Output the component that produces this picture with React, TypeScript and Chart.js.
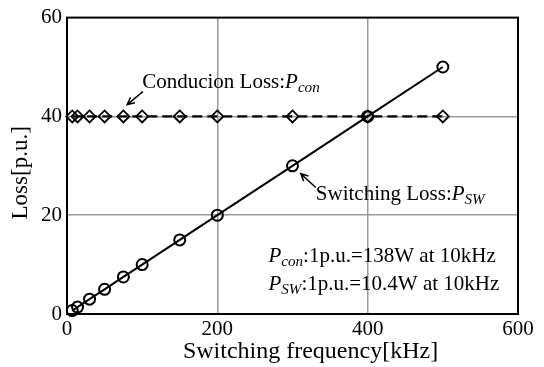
import React, { useEffect, useRef } from 'react';
import { Chart, registerables } from 'chart.js';

Chart.register(...registerables);

// Data
const frequencies = [7, 14, 30, 50, 75, 100, 150, 200, 300, 400, 500];
const conductionLoss = [40, 40, 40, 40, 40, 40, 40, 40, 40, 40, 40];
const switchingLoss = [0.7, 1.4, 3, 5, 7.5, 10, 15, 20, 30, 40, 50];
const xTickValues = [0, 200, 400, 600];
const yTickValues = [0, 20, 40, 60];

const xTitle = 'Switching frequency[kHz]';
const yTitle = 'Loss[p.u.]';

const FONT = '"Liberation Serif", "Times New Roman", serif';
const TICK_FS = 21;
const NOTE_FS = 21;
const XTITLE_FS = 24;
const YTITLE_FS = 23;

type Part = { text: string; italic?: boolean; sub?: boolean };

const conductionLabel: Part[] = [
  { text: 'Conducion Loss:' },
  { text: 'P', italic: true },
  { text: 'con', italic: true, sub: true },
];
const switchingLabel: Part[] = [
  { text: 'Switching Loss:' },
  { text: 'P', italic: true },
  { text: 'SW', italic: true, sub: true },
];
const noteLine1: Part[] = [
  { text: 'P', italic: true },
  { text: 'con', italic: true, sub: true },
  { text: ':1p.u.=138W at 10kHz' },
];
const noteLine2: Part[] = [
  { text: 'P', italic: true },
  { text: 'SW', italic: true, sub: true },
  { text: ':1p.u.=10.4W at 10kHz' },
];

function drawRich(ctx: CanvasRenderingContext2D, parts: Part[], x: number, y: number, size: number) {
  let cx = x;
  ctx.textAlign = 'left';
  ctx.textBaseline = 'middle';
  for (const p of parts) {
    const fs = p.sub ? size * 0.72 : size;
    ctx.font = `${p.italic ? 'italic ' : ''}${fs}px ${FONT}`;
    ctx.fillText(p.text, cx, y + (p.sub ? size * 0.25 : 0));
    cx += ctx.measureText(p.text).width;
  }
}

function drawArrow(ctx: CanvasRenderingContext2D, x1: number, y1: number, x2: number, y2: number) {
  const ang = Math.atan2(y2 - y1, x2 - x1);
  const hl = 8;
  ctx.beginPath();
  ctx.moveTo(x1, y1);
  ctx.lineTo(x2, y2);
  ctx.moveTo(x2 - hl * Math.cos(ang - 0.45), y2 - hl * Math.sin(ang - 0.45));
  ctx.lineTo(x2, y2);
  ctx.lineTo(x2 - hl * Math.cos(ang + 0.45), y2 - hl * Math.sin(ang + 0.45));
  ctx.stroke();
}

const decorPlugin = {
  id: 'decor',
  beforeDatasetsDraw(chart: any) {
    const { ctx, chartArea } = chart;
    ctx.save();
    ctx.strokeStyle = '#000';
    ctx.lineWidth = 2;
    ctx.strokeRect(chartArea.left, chartArea.top, chartArea.right - chartArea.left, chartArea.bottom - chartArea.top);
    ctx.restore();
  },
  afterDraw(chart: any) {
    const { ctx, chartArea } = chart;
    const xs = chart.scales.x;
    const ys = chart.scales.y;
    const px = (v: number) => xs.getPixelForValue(v);
    const py = (v: number) => ys.getPixelForValue(v);
    ctx.save();
    ctx.fillStyle = '#000';
    ctx.strokeStyle = '#000';
    ctx.lineWidth = 1.5;

    // annotations
    drawRich(ctx, conductionLabel, px(100), py(46.8), NOTE_FS);
    drawArrow(ctx, px(101), py(45), px(80), py(42.4));
    drawRich(ctx, switchingLabel, px(331), py(24.2), NOTE_FS);
    drawArrow(ctx, px(331), py(25.6), px(311), py(28.4));
    drawRich(ctx, noteLine1, px(268), py(11.6), NOTE_FS);
    drawRich(ctx, noteLine2, px(268), py(6.0), NOTE_FS);

    // axis titles
    ctx.textAlign = 'center';
    ctx.textBaseline = 'middle';
    ctx.font = `${XTITLE_FS}px ${FONT}`;
    ctx.fillText(xTitle, (chartArea.left + chartArea.right) / 2 + 18, chartArea.bottom + 38);
    ctx.font = `${YTITLE_FS}px ${FONT}`;
    ctx.translate(chartArea.left - 46, (chartArea.top + chartArea.bottom) / 2 + 7);
    ctx.rotate(-Math.PI / 2);
    ctx.fillText(yTitle, 0, 0);
    ctx.restore();
  },
};

export default function App() {
  const ref = useRef<HTMLCanvasElement | null>(null);

  useEffect(() => {
    if (!ref.current) return;
    const tickFont = { family: FONT, size: TICK_FS };
    const gridColor = (c: any) =>
      c.tick && (c.tick.value === c.scale.min || c.tick.value === c.scale.max) ? 'rgba(0,0,0,0)' : '#9a9a9a';
    const chart = new Chart(ref.current, {
      type: 'scatter',
      data: {
        datasets: [
          {
            label: 'Conduction Loss',
            data: frequencies.map((f, i) => ({ x: f, y: conductionLoss[i] })),
            showLine: true,
            borderColor: '#000',
            borderWidth: 2.4,
            borderDash: [10, 5],
            pointStyle: 'rectRot',
            pointRadius: 6,
            pointBorderWidth: 1.8,
            pointBorderColor: '#000',
            pointBackgroundColor: 'rgba(0,0,0,0)',
            clip: false,
          } as any,
          {
            label: 'Switching Loss',
            data: frequencies.map((f, i) => ({ x: f, y: switchingLoss[i] })),
            showLine: true,
            borderColor: '#000',
            borderWidth: 2,
            pointStyle: 'circle',
            pointRadius: 5.5,
            pointBorderWidth: 2,
            pointBorderColor: '#000',
            pointBackgroundColor: 'rgba(0,0,0,0)',
            clip: false,
          } as any,
        ],
      },
      options: {
        responsive: false,
        animation: false,
        devicePixelRatio: 1,
        layout: { padding: { top: 15, right: 26, left: 0, bottom: 0 } },
        plugins: { legend: { display: false }, tooltip: { enabled: false } },
        scales: {
          x: {
            type: 'linear',
            min: 0,
            max: 600,
            afterBuildTicks: (s: any) => {
              s.ticks = xTickValues.map((v) => ({ value: v }));
            },
            afterFit: (s: any) => {
              s.height = 53;
            },
            ticks: { font: tickFont, color: '#000', padding: 3 },
            grid: { color: gridColor, lineWidth: 1.5, drawTicks: false },
            border: { display: true, color: '#000', width: 2 },
          },
          y: {
            type: 'linear',
            min: 0,
            max: 60,
            afterBuildTicks: (s: any) => {
              s.ticks = yTickValues.map((v) => ({ value: v }));
            },
            afterFit: (s: any) => {
              s.width = 67;
            },
            ticks: { font: tickFont, color: '#000', padding: 5 },
            grid: { color: gridColor, lineWidth: 1.5, drawTicks: false },
            border: { display: true, color: '#000', width: 2 },
          },
        },
      } as any,
      plugins: [decorPlugin],
    });
    return () => chart.destroy();
  }, []);

  return (
    <div style={{ position: 'fixed', left: 0, top: 0, width: 544, height: 367, background: '#fff' }}>
      <canvas ref={ref} width={544} height={367} style={{ width: 544, height: 367 }} />
    </div>
  );
}
